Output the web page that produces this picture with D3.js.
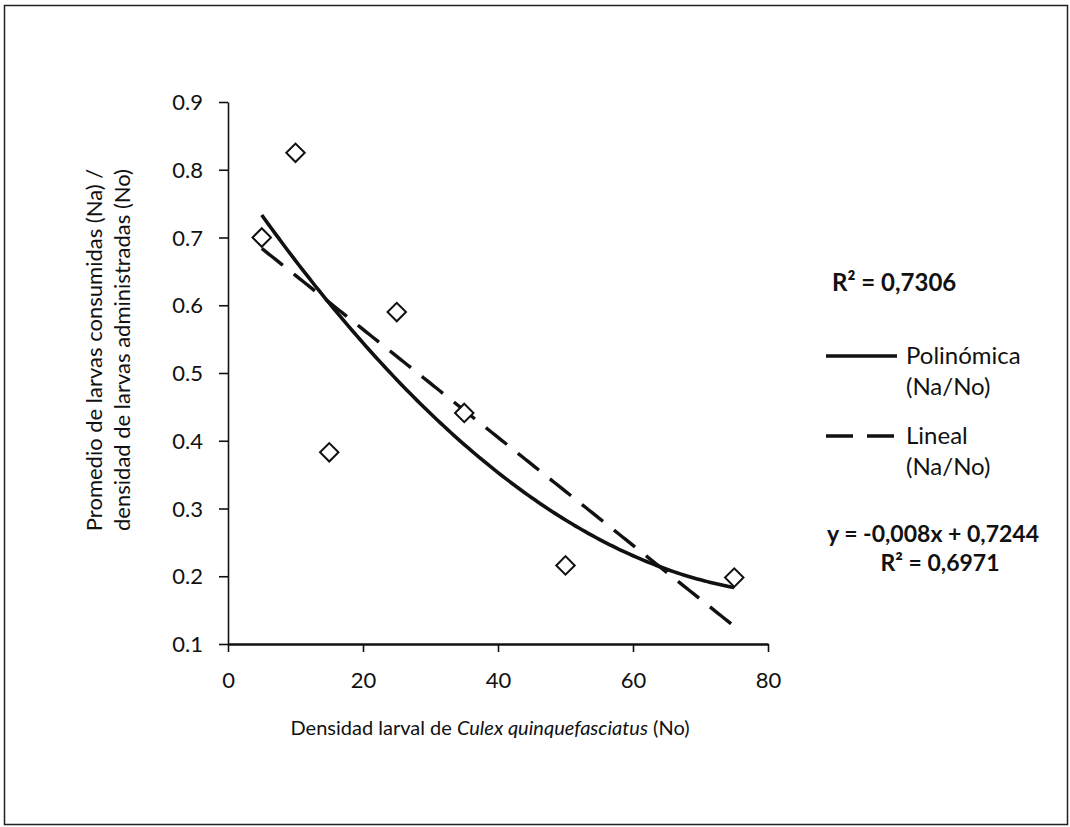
<!DOCTYPE html>
<html>
<head>
<meta charset="utf-8">
<script src="https://cdn.jsdelivr.net/npm/d3@7"></script>
<style>
  html, body { margin: 0; padding: 0; background: #fff; }
  svg { display: block; font-family: Lato, "Open Sans", sans-serif; }
</style>
</head>
<body>
<div id="chart"></div>
<script>
// data
const densidad = [5, 10, 15, 25, 35, 50, 75];
const proporcion = [0.70, 0.825, 0.383, 0.59, 0.441, 0.216, 0.198];
const xTicks = [0, 20, 40, 60, 80];
const yTicks = [0.1, 0.2, 0.3, 0.4, 0.5, 0.6, 0.7, 0.8, 0.9];
const legendLabels = ['Polinómica', 'Lineal'];
const r2Poly = 'R² = 0,7306';
const eqLineal = 'y = -0,008x + 0,7244';
const r2Lineal = 'R² = 0,6971';

const W = 1070, H = 827;
const svg = d3.select('#chart').append('svg')
  .attr('width', W).attr('height', H);

// outer frame
svg.append('rect')
  .attr('x', 4.5).attr('y', 5.5).attr('width', 1063).attr('height', 819)
  .attr('fill', 'none').attr('stroke', '#222').attr('stroke-width', 1.5);

const x = d3.scaleLinear().domain([0, 80]).range([228, 768]);
const y = d3.scaleLinear().domain([0.1, 0.9]).range([644, 102]);

// least squares fits (same as spreadsheet trendlines)
function polyFit(xs, ys, order) {
  const n = order + 1;
  const A = d3.range(n).map(() => d3.range(n + 1).map(() => 0));
  xs.forEach((xv, k) => {
    for (let i = 0; i < n; i++) {
      for (let j = 0; j < n; j++) A[i][j] += Math.pow(xv, i + j);
      A[i][n] += ys[k] * Math.pow(xv, i);
    }
  });
  for (let i = 0; i < n; i++) {
    for (let r = i + 1; r < n; r++) {
      const f = A[r][i] / A[i][i];
      for (let c = i; c <= n; c++) A[r][c] -= f * A[i][c];
    }
  }
  const coef = new Array(n).fill(0);
  for (let i = n - 1; i >= 0; i--) {
    let s = A[i][n];
    for (let j = i + 1; j < n; j++) s -= A[i][j] * coef[j];
    coef[i] = s / A[i][i];
  }
  return xv => coef.reduce((acc, c, i) => acc + c * Math.pow(xv, i), 0);
}
const fPoly = polyFit(densidad, proporcion, 2);
const fLin = polyFit(densidad, proporcion, 1);
const xs = d3.range(d3.min(densidad), d3.max(densidad) + 0.01, 0.5);

const line = f => d3.line().x(d => x(d)).y(d => y(f(d)));

// axes
const yAxis = svg.append('g')
  .attr('transform', `translate(${x(0)},0)`)
  .call(d3.axisLeft(y).tickValues(yTicks).tickFormat(d3.format('.1f')).tickSize(9).tickSizeOuter(0));
const xAxis = svg.append('g')
  .attr('transform', `translate(0,${y(0.1)})`)
  .call(d3.axisBottom(x).tickValues(xTicks).tickSize(8).tickSizeOuter(0));
[yAxis, xAxis].forEach(g => {
  g.selectAll('path, line').attr('stroke', '#111').attr('stroke-width', 1.6);
  g.selectAll('text').attr('fill', '#111').style('font-size', '22px')
    .style('font-family', 'Lato, "Open Sans", sans-serif');
});
yAxis.selectAll('text').attr('x', -25).attr('dy', '0.35em');
xAxis.select('path').attr('stroke-width', 2.4);
xAxis.selectAll('text').attr('y', 36).attr('dy', '0.35em');

// trend lines
svg.append('path').datum(xs)
  .attr('d', line(fPoly))
  .attr('fill', 'none').attr('stroke', '#111').attr('stroke-width', 3.6);
svg.append('path').datum(xs)
  .attr('d', line(fLin))
  .attr('fill', 'none').attr('stroke', '#111').attr('stroke-width', 3.4)
  .attr('stroke-dasharray', '27,14');

// points
svg.append('g').selectAll('path')
  .data(densidad.map((d, i) => [d, proporcion[i]]))
  .join('path')
  .attr('d', d3.symbol(d3.symbolSquare, 170))
  .attr('transform', d => `translate(${x(d[0])},${y(d[1])}) rotate(45)`)
  .attr('fill', '#fff').attr('stroke', '#111').attr('stroke-width', 2);

// axis titles
svg.append('text')
  .attr('x', 490).attr('y', 728).attr('dy', '0.35em')
  .attr('text-anchor', 'middle').style('font-size', '20px').attr('fill', '#111')
  .call(t => {
    t.append('tspan').text('Densidad larval de ');
    t.append('tspan').style('font-style', 'italic').text('Culex quinquefasciatus');
    t.append('tspan').text(' (No)');
  });
const yt = svg.append('text')
  .attr('transform', 'translate(0,350) rotate(-90)')
  .attr('text-anchor', 'middle').style('font-size', '22px').attr('fill', '#111');
yt.append('tspan').attr('x', 0).attr('y', 102).text('Promedio de larvas consumidas (Na) /');
yt.append('tspan').attr('x', 0).attr('y', 130).text('densidad de larvas administradas (No)');

// legend / annotations
const lg = svg.append('g').attr('fill', '#111').style('font-size', '24px');
lg.append('text').attr('x', 832).attr('y', 283).attr('dy', '0.35em').style('font-weight', 'bold')
  .text(r2Poly);
lg.append('line').attr('x1', 826).attr('x2', 897).attr('y1', 356).attr('y2', 356)
  .attr('stroke', '#111').attr('stroke-width', 3.6);
lg.append('line').attr('x1', 826).attr('x2', 897).attr('y1', 436).attr('y2', 436)
  .attr('stroke', '#111').attr('stroke-width', 3.4).attr('stroke-dasharray', '27,14');
legendLabels.forEach((lab, i) => {
  const yy = [356, 436][i];
  lg.append('text').attr('x', 906).attr('y', yy).attr('dy', '0.35em').text(lab);
  lg.append('text').attr('x', 906).attr('y', yy + 31).attr('dy', '0.35em').text('(Na/No)');
});
lg.append('text').attr('x', 933).attr('y', 534).attr('dy', '0.35em')
  .attr('text-anchor', 'middle').style('font-weight', 'bold').style('font-size', '23px').text(eqLineal);
lg.append('text').attr('x', 940).attr('y', 563).attr('dy', '0.35em')
  .attr('text-anchor', 'middle').style('font-weight', 'bold').style('font-size', '23px').text(r2Lineal);
</script>
</body>
</html>
